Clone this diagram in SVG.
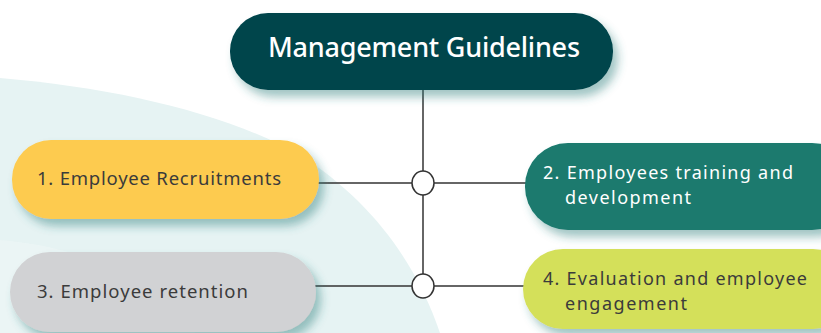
<svg xmlns="http://www.w3.org/2000/svg" width="821" height="333" viewBox="0 0 821 333">
<defs>
<filter id="sh" x="-10%" y="-20%" width="130%" height="160%">
<feDropShadow dx="5" dy="7" stdDeviation="5" flood-color="#2f7f7c" flood-opacity="0.45"/>
</filter>
<style>
.t{font-family:"Noto Sans","Open Sans",sans-serif;font-size:18.5px;fill:#3b3b3b}
.s{font-size:18px}
.w{fill:#ffffff}
.ln{stroke:#333333;stroke-width:1.5;fill:none}
.jn{fill:#ffffff;stroke:#333333;stroke-width:1.5}
</style>
</defs>
<rect width="821" height="333" fill="#ffffff"/>
<path d="M0,78 C120,88 230,115 300,155 C370,200 415,260 440,333 L0,333 Z" fill="#e6f3f3"/>
<path d="M0,240 C60,245 110,262 150,290 C170,305 185,320 195,333 L0,333 Z" fill="#eef7f7" opacity="0.6"/>
<g id="connectors">
<line class="ln" x1="423" y1="88" x2="423" y2="286"/>
<line class="ln" x1="316" y1="183" x2="527" y2="183"/>
<line class="ln" x1="314" y1="286" x2="525" y2="286"/>
<ellipse class="jn" cx="423" cy="183" rx="11" ry="12"/>
<ellipse class="jn" cx="423" cy="286" rx="11" ry="12"/>
</g>
<g id="root">
<rect x="230" y="13" width="383" height="77" rx="38" fill="#03444c" filter="url(#sh)"/>
<text x="268" y="57" textLength="312" lengthAdjust="spacing" font-family="Noto Sans, Open Sans, sans-serif" font-size="27" font-weight="500" fill="#ffffff">Management Guidelines</text>
</g>
<g id="n1">
<rect x="12" y="140" width="307" height="79" rx="39" fill="#fdcb50" filter="url(#sh)"/>
<text class="t" x="37" y="185" textLength="244" lengthAdjust="spacing">1. Employee Recruitments</text>
</g>
<g id="n3">
<rect x="10" y="252" width="306" height="80" rx="40" fill="#d1d2d4" filter="url(#sh)"/>
<text class="t" x="37" y="298" textLength="211" lengthAdjust="spacing">3. Employee retention</text>
</g>
<g id="n2">
<rect x="525" y="143" width="330" height="87" rx="43" fill="#1a7a6e" filter="url(#sh)"/>
<text class="t s w" x="543" y="179" textLength="250" lengthAdjust="spacing">2. Employees training and</text>
<text class="t s w" x="565" y="204" textLength="126" lengthAdjust="spacing">development</text>
</g>
<g id="n4">
<rect x="523" y="249" width="330" height="80" rx="40" fill="#d4e05a" filter="url(#sh)"/>
<text class="t s" x="543" y="285" textLength="264" lengthAdjust="spacing">4. Evaluation and employee</text>
<text class="t s" x="565" y="310" textLength="122" lengthAdjust="spacing">engagement</text>
</g>
</svg>
